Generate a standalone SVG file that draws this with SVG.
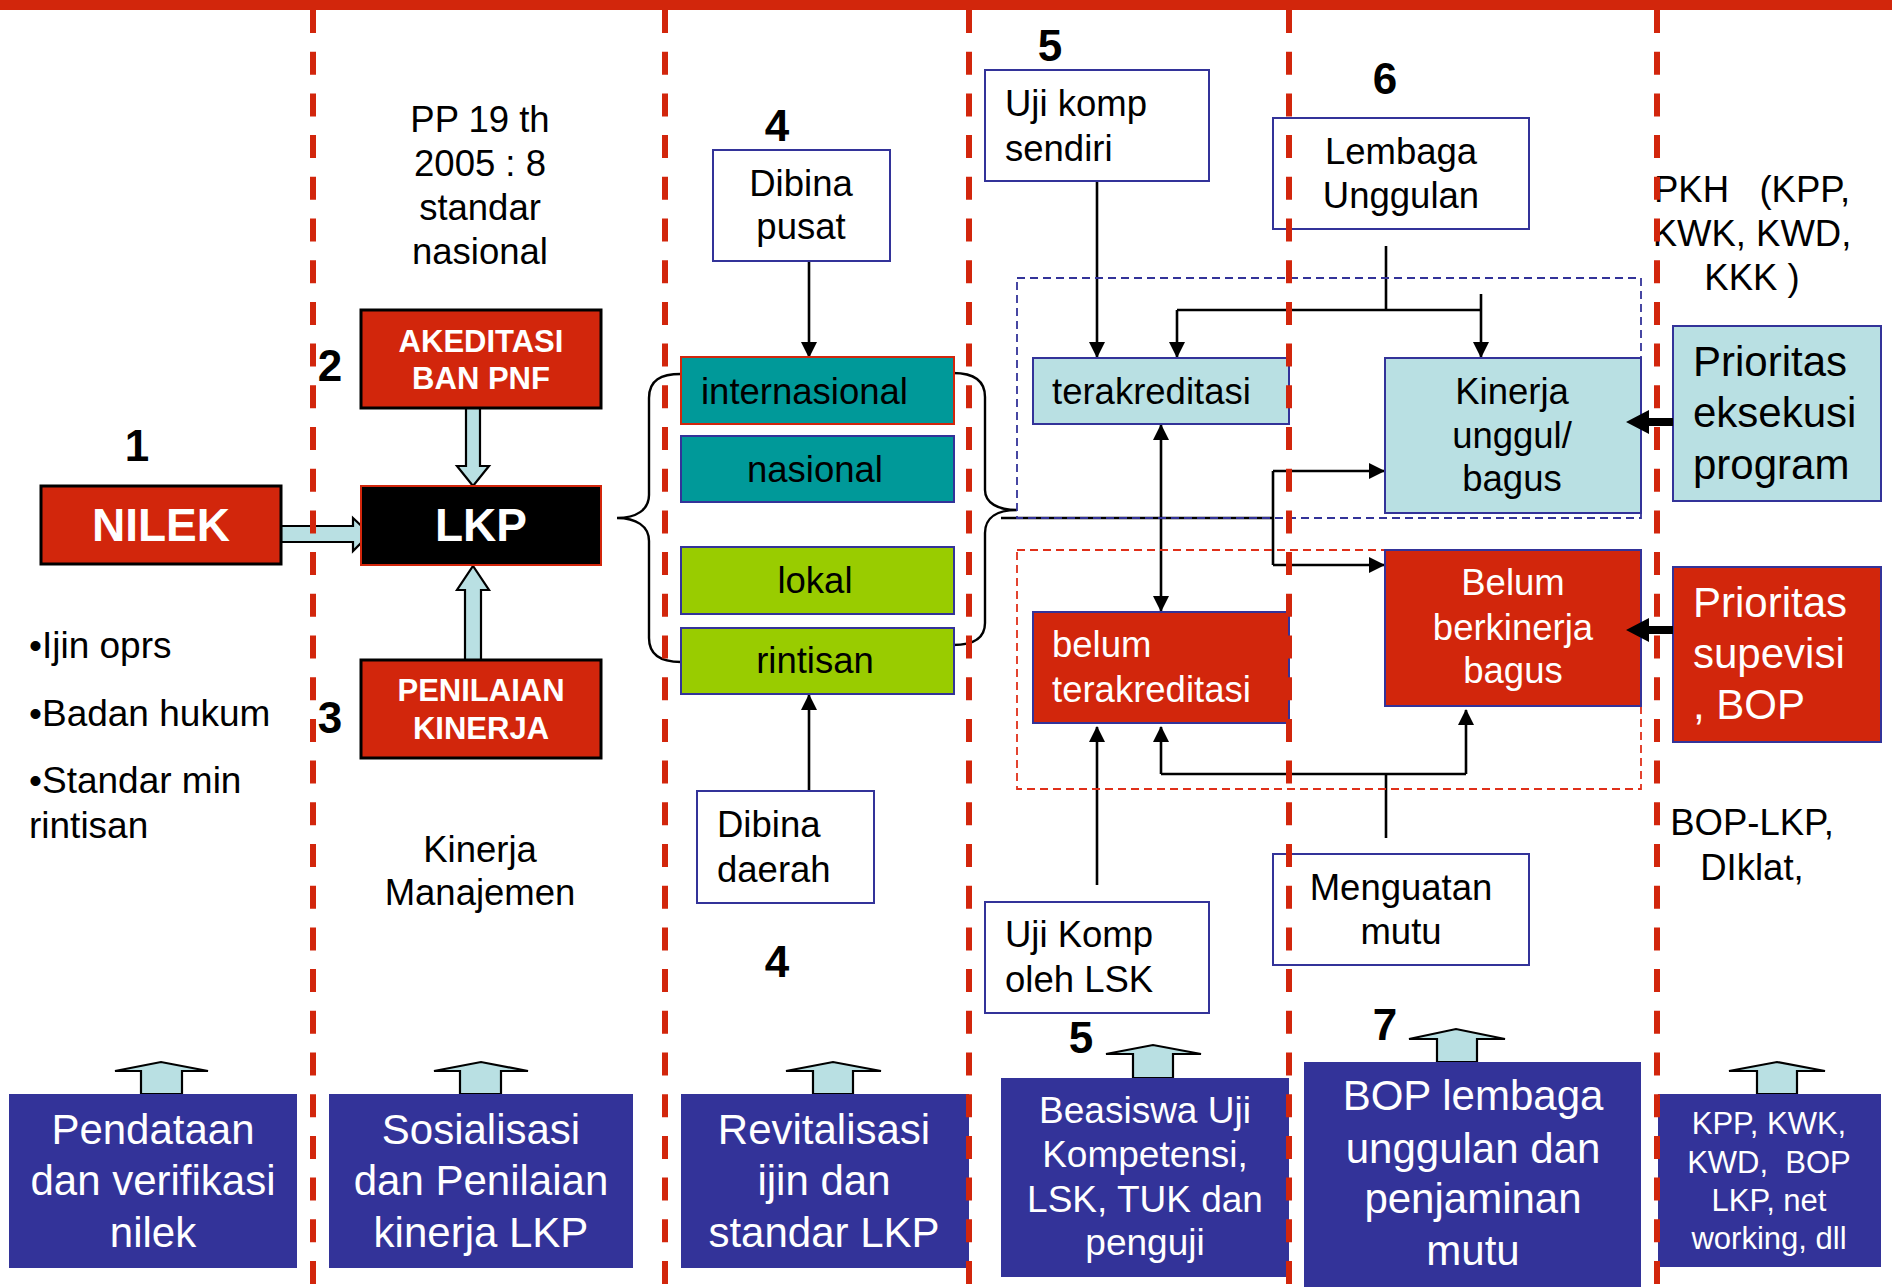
<svg xmlns="http://www.w3.org/2000/svg" width="1892" height="1287" viewBox="0 0 1892 1287">
<defs>
<style>
text{font-family:"Liberation Sans",Arial,Helvetica,sans-serif;fill:#000}
.w{fill:#fff}
.b{font-weight:bold}
.c{text-anchor:middle}
.num{font-weight:bold;font-size:44px;text-anchor:middle}
.f36{font-size:36.5px}
.f42{font-size:42px}
.red{fill:#d2260c;stroke:#000;stroke-width:3}
.lb{fill:#b9e0e3;stroke:#333399;stroke-width:2}
.rb{fill:#d2260c;stroke:#333399;stroke-width:2}
.wb{fill:#fff;stroke:#333399;stroke-width:2}
.db{fill:#333399}
.fat{fill:#b9e0e3;stroke:#000;stroke-width:2.2;stroke-linejoin:miter}
.ln{fill:none;stroke:#000;stroke-width:2.6}
.ar{fill:none;stroke:#000;stroke-width:2.6;marker-end:url(#ah)}
.br{fill:none;stroke:#000;stroke-width:2.4}
.sep{stroke:#d2260c;stroke-width:6;stroke-dasharray:23 18.7}
</style>
<marker id="ah" markerUnits="userSpaceOnUse" markerWidth="16" markerHeight="18" refX="15" refY="8" orient="auto-start-reverse" viewBox="0 0 16 16">
<path d="M0,0 L16,8 L0,16 z" fill="#000"/>
</marker>
</defs>

<rect x="0" y="0" width="1892" height="10" fill="#d2260c"/>

<g id="connectors">
<polygon class="fat" points="281,526 353,526 353,518 370,534 353,551 353,542 281,542"/>
<polygon class="fat" points="466,408 480,408 480,466 489,466 473,486 457,466 466,466"/>
<polygon class="fat" points="465,660 481,660 481,590 489,590 473,566 457,590 465,590"/>
<path class="br" d="M681,374 C661,374 649,380 649,398 L649,495 C649,510 636,518 617,518 C636,518 649,526 649,541 L649,638 C649,655 661,662 681,662"/>
<path class="br" d="M953,373 C973,373 985,380 985,397 L985,490 C985,503 998,510 1017,510 C998,510 985,517 985,533 L985,623 C985,638 973,645 953,645"/>
<line class="ar" x1="809" y1="261" x2="809" y2="357"/>
<line class="ar" x1="809" y1="791" x2="809" y2="695"/>
<line class="ar" x1="1097" y1="181" x2="1097" y2="357"/>
<line class="ar" x1="1097" y1="885" x2="1097" y2="727"/>
<line class="ar" x1="1161" y1="425" x2="1161" y2="611" style="marker-start:url(#ah)"/>
<polyline class="ln" points="1386,246 1386,310"/>
<polyline class="ln" points="1177,310 1481,310"/>
<line class="ar" x1="1177" y1="310" x2="1177" y2="357"/>
<line class="ar" x1="1481" y1="294" x2="1481" y2="357"/>
<polyline class="ln" points="1001,518 1273,518"/>
<polyline class="ln" points="1273,471 1273,565"/>
<line class="ar" x1="1273" y1="471" x2="1384" y2="471"/>
<line class="ar" x1="1273" y1="565" x2="1384" y2="565"/>
<polyline class="ln" points="1386,838 1386,774"/>
<polyline class="ln" points="1161,774 1466,774"/>
<line class="ar" x1="1161" y1="774" x2="1161" y2="727"/>
<line class="ar" x1="1466" y1="774" x2="1466" y2="710"/>
<polygon class="fat" points="141,1094 141,1071 115,1071 161,1062 208,1071 182,1071 182,1094"/>
<polygon class="fat" points="460,1094 460,1071 434,1071 481,1062 528,1071 501,1071 501,1094"/>
<polygon class="fat" points="813,1094 813,1071 786,1071 833,1062 881,1071 853,1071 853,1094"/>
<polygon class="fat" points="1133,1078 1133,1054 1106,1054 1153,1045 1201,1054 1173,1054 1173,1078"/>
<polygon class="fat" points="1437,1062 1437,1039 1409,1039 1456,1029 1505,1039 1477,1039 1477,1062"/>
<polygon class="fat" points="1757,1094 1757,1071 1729,1071 1777,1062 1825,1071 1797,1071 1797,1094"/>
</g>

<g id="regions">
<rect x="1017" y="278" width="624" height="240" fill="none" stroke="#333399" stroke-width="1.8" stroke-dasharray="8 5"/>
<rect x="1017" y="550" width="624" height="239" fill="none" stroke="#e0301a" stroke-width="1.8" stroke-dasharray="8 5"/>
</g>

<g id="nilek">
<rect class="red" x="41" y="486" width="240" height="78"/>
<text class="w b c" x="161" y="541" font-size="46">NILEK</text>
</g>
<g id="lkp">
<rect x="361" y="486" width="240" height="79" fill="#000" stroke="#d2260c" stroke-width="2"/>
<text class="w b c" x="481" y="541" font-size="46">LKP</text>
</g>
<g id="akreditasi">
<rect class="red" x="361" y="310" width="240" height="98"/>
<text class="w b c" x="481" y="352" font-size="31">AKEDITASI</text>
<text class="w b c" x="481" y="389" font-size="31">BAN PNF</text>
</g>
<g id="penilaian">
<rect class="red" x="361" y="660" width="240" height="98"/>
<text class="w b c" x="481" y="701" font-size="31">PENILAIAN</text>
<text class="w b c" x="481" y="739" font-size="31">KINERJA</text>
</g>

<g id="labels">
<text class="num" x="137" y="461">1</text>
<text class="num" x="330" y="381">2</text>
<text class="num" x="330" y="733">3</text>
<text class="num" x="777" y="141">4</text>
<text class="num" x="777" y="977">4</text>
<text class="num" x="1050" y="61">5</text>
<text class="num" x="1081" y="1053">5</text>
<text class="num" x="1385" y="94">6</text>
<text class="num" x="1385" y="1040">7</text>
<text class="c f36" x="480" y="132">PP 19 th</text>
<text class="c f36" x="480" y="176">2005 : 8</text>
<text class="c f36" x="480" y="220">standar</text>
<text class="c f36" x="480" y="264">nasional</text>
<text class="c f36" x="480" y="862">Kinerja</text>
<text class="c f36" x="480" y="905">Manajemen</text>
<text x="29" y="658" font-size="37">•Ijin oprs</text>
<text x="29" y="726" font-size="37">•Badan hukum</text>
<text x="29" y="793" font-size="37">•Standar min</text>
<text x="29" y="838" font-size="37">rintisan</text>
<text class="c f36" x="1752" y="202" style="white-space:pre">PKH   (KPP,</text>
<text class="c f36" x="1752" y="246">KWK, KWD,</text>
<text class="c f36" x="1752" y="290">KKK )</text>
<text class="c f36" x="1752" y="835">BOP-LKP,</text>
<text class="c f36" x="1752" y="880">DIklat,</text>
</g>

<g id="internasional">
<rect x="681" y="357" width="273" height="67" fill="#009999" stroke="#d2260c" stroke-width="2"/>
<text class="f36" x="701" y="404">internasional</text>
</g>
<g id="nasional">
<rect x="681" y="436" width="273" height="66" fill="#009999" stroke="#333399" stroke-width="2"/>
<text class="c f36" x="815" y="482">nasional</text>
</g>
<g id="lokal">
<rect x="681" y="547" width="273" height="67" fill="#99cc00" stroke="#333399" stroke-width="2"/>
<text class="c f36" x="815" y="593">lokal</text>
</g>
<g id="rintisan">
<rect x="681" y="628" width="273" height="66" fill="#99cc00" stroke="#333399" stroke-width="2"/>
<text class="c f36" x="815" y="673">rintisan</text>
</g>
<g id="dibina-pusat">
<rect class="wb" x="713" y="150" width="177" height="111"/>
<text class="c f36" x="801" y="196">Dibina</text>
<text class="c f36" x="801" y="239">pusat</text>
</g>
<g id="dibina-daerah">
<rect class="wb" x="697" y="791" width="177" height="112"/>
<text class="f36" x="717" y="837">Dibina</text>
<text class="f36" x="717" y="882">daerah</text>
</g>
<g id="uji-komp-sendiri">
<rect class="wb" x="985" y="70" width="224" height="111"/>
<text class="f36" x="1005" y="116">Uji komp</text>
<text class="f36" x="1005" y="161">sendiri</text>
</g>
<g id="terakreditasi">
<rect class="lb" x="1033" y="358" width="256" height="66"/>
<text class="f36" x="1052" y="404">terakreditasi</text>
</g>
<g id="belum-terakreditasi">
<rect class="rb" x="1033" y="612" width="256" height="111"/>
<text class="w f36" x="1052" y="657">belum</text>
<text class="w f36" x="1052" y="702">terakreditasi</text>
</g>
<g id="uji-komp-lsk">
<rect class="wb" x="985" y="902" width="224" height="111"/>
<text class="f36" x="1005" y="947">Uji Komp</text>
<text class="f36" x="1005" y="992">oleh LSK</text>
</g>
<g id="lembaga-unggulan">
<rect class="wb" x="1273" y="118" width="256" height="111"/>
<text class="c f36" x="1401" y="164">Lembaga</text>
<text class="c f36" x="1401" y="208">Unggulan</text>
</g>
<g id="kinerja-unggul">
<rect class="lb" x="1385" y="358" width="256" height="155"/>
<text class="c f36" x="1512" y="404">Kinerja</text>
<text class="c f36" x="1512" y="448">unggul/</text>
<text class="c f36" x="1512" y="491">bagus</text>
</g>
<g id="belum-berkinerja">
<rect class="rb" x="1385" y="550" width="256" height="156"/>
<text class="w c f36" x="1513" y="595">Belum</text>
<text class="w c f36" x="1513" y="640">berkinerja</text>
<text class="w c f36" x="1513" y="683">bagus</text>
</g>
<g id="menguatan-mutu">
<rect class="wb" x="1273" y="854" width="256" height="111"/>
<text class="c f36" x="1401" y="900">Menguatan</text>
<text class="c f36" x="1401" y="944">mutu</text>
</g>
<g id="prioritas-eksekusi">
<rect class="lb" x="1673" y="326" width="208" height="175"/>
<text class="f42" x="1693" y="376">Prioritas</text>
<text class="f42" x="1693" y="427">eksekusi</text>
<text class="f42" x="1693" y="479">program</text>
</g>
<g id="prioritas-supevisi">
<rect class="rb" x="1673" y="567" width="208" height="175"/>
<text class="w f42" x="1693" y="617">Prioritas</text>
<text class="w f42" x="1693" y="668">supevisi</text>
<text class="w f42" x="1693" y="719">, BOP</text>
</g>

<g id="priority-arrows">
<polygon points="1673,418 1649,418 1649,410 1626,422 1649,434 1649,426 1673,426" fill="#000"/>
<polygon points="1673,626 1649,626 1649,618 1626,630 1649,642 1649,634 1673,634" fill="#000"/>
</g>

<g id="pendataan">
<rect class="db" x="9" y="1094" width="288" height="174"/>
<text class="w c f42" x="153" y="1144">Pendataan</text>
<text class="w c f42" x="153" y="1195">dan verifikasi</text>
<text class="w c f42" x="153" y="1247">nilek</text>
</g>
<g id="sosialisasi">
<rect class="db" x="329" y="1094" width="304" height="174"/>
<text class="w c f42" x="481" y="1144">Sosialisasi</text>
<text class="w c f42" x="481" y="1195">dan Penilaian</text>
<text class="w c f42" x="481" y="1247">kinerja LKP</text>
</g>
<g id="revitalisasi">
<rect class="db" x="681" y="1094" width="288" height="174"/>
<text class="w c f42" x="824" y="1144">Revitalisasi</text>
<text class="w c f42" x="824" y="1195">ijin dan</text>
<text class="w c f42" x="824" y="1247">standar LKP</text>
</g>
<g id="beasiswa">
<rect class="db" x="1001" y="1078" width="288" height="199"/>
<text class="w c" x="1145" y="1123" font-size="37">Beasiswa Uji</text>
<text class="w c" x="1145" y="1167" font-size="37">Kompetensi,</text>
<text class="w c" x="1145" y="1212" font-size="37">LSK, TUK dan</text>
<text class="w c" x="1145" y="1255" font-size="37">penguji</text>
</g>
<g id="bop-lembaga">
<rect class="db" x="1304" y="1062" width="337" height="230"/>
<text class="w c f42" x="1473" y="1110">BOP lembaga</text>
<text class="w c f42" x="1473" y="1163">unggulan dan</text>
<text class="w c f42" x="1473" y="1213">penjaminan</text>
<text class="w c f42" x="1473" y="1265">mutu</text>
</g>
<g id="kpp">
<rect class="db" x="1658" y="1094" width="223" height="173"/>
<text class="w c" x="1769" y="1134" font-size="31">KPP, KWK,</text>
<text class="w c" x="1769" y="1173" font-size="31" style="white-space:pre">KWD,  BOP</text>
<text class="w c" x="1769" y="1211" font-size="31">LKP, net</text>
<text class="w c" x="1769" y="1249" font-size="31">working, dll</text>
</g>

<g id="separators">
<line class="sep" x1="313" y1="10" x2="313" y2="1290"/>
<line class="sep" x1="665" y1="10" x2="665" y2="1290"/>
<line class="sep" x1="969" y1="10" x2="969" y2="1290"/>
<line class="sep" x1="1289" y1="10" x2="1289" y2="1290"/>
<line class="sep" x1="1657" y1="10" x2="1657" y2="1290"/>
</g>
</svg>
